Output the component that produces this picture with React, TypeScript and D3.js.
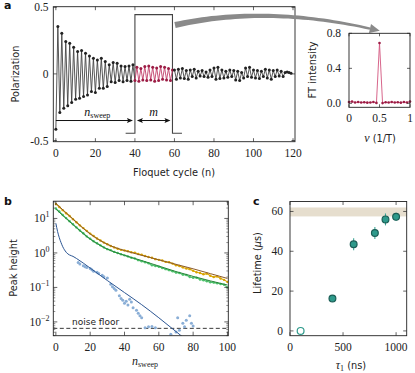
import React from "react";
import * as d3 from "d3";

// ---------- Panel a: polarization vs Floquet cycle ----------
const polPre = [
  -0.416, 0.356, -0.29, 0.306, -0.258, 0.243, -0.24, 0.23, -0.215, 0.2,
  -0.19, 0.168, -0.183, 0.175, -0.17, 0.155, -0.158, 0.135, -0.133, 0.118,
  -0.14, 0.105, -0.108, 0.118, -0.108, 0.093, -0.095, 0.068, -0.058, 0.085,
  -0.065, 0.08, -0.05, 0.06, -0.058, 0.055, -0.05, 0.06, -0.055, 0.068,
];
const polWindow = [
  -0.05, 0.05, -0.055, 0.04, -0.045, 0.055, -0.05, 0.06, -0.045, 0.05,
  -0.055, 0.045, -0.05, 0.055, -0.04, 0.05, -0.045, 0.04, -0.05, 0.03,
];
const polPost = [
  0.03, -0.04, 0.035, -0.03, 0.04, -0.035, 0.025, -0.04, 0.03, -0.02,
  0.035, -0.03, 0.02, -0.015, 0.025, -0.02, 0.015, -0.025, 0.03, -0.02,
  0.045, -0.04, 0.05, -0.035, 0.03, -0.03, 0.02, -0.025, 0.03, -0.02,
  0.025, -0.045, 0.02, -0.05, 0.01, -0.03, 0.045, -0.02, 0.05, -0.025,
  0.03, -0.03, 0.025, -0.035, 0.02, -0.02, 0.035, -0.03, 0.03, -0.04,
  0.025, -0.02, 0.03, -0.015, 0.02, -0.02, 0.01, 0.015, 0.01, 0.005,
];
const windowStart = 40;
const windowEnd = 59;
const ticksAX = [0, 20, 40, 60, 80, 100, 120];
const ticksAY = [-0.5, 0, 0.5];
const ticksAYLabels = ["-0.5", "0", "0.5"];

// ---------- Inset: FT ----------
const ftFreq = [0, 0.05, 0.1, 0.15, 0.2, 0.25, 0.3, 0.35, 0.4, 0.45, 0.5, 0.55, 0.6, 0.65, 0.7, 0.75, 0.8, 0.85, 0.9, 0.95, 1];
const ftAmp = [0.015, 0.02, 0.01, 0.015, 0.01, 0.012, 0.008, 0.01, 0.015, 0.005, 0.69, 0.003, 0.012, 0.01, 0.015, 0.01, 0.012, 0.008, 0.015, 0.01, 0.02];
const ticksIX = [0, 0.5, 1];
const ticksIXLabels = ["0", "0.5", "1"];
const ticksIY = [0, 0.4, 0.8];
const ticksIYLabels = ["0.0", "0.4", "0.8"];

// ---------- Panel b: peak height vs n_sweep (log10 values) ----------
const sweepN = d3.range(0, 101, 2);
const goldLog10 = [
  1.42, 1.33, 1.24, 1.15, 1.07, 0.98, 0.89, 0.8, 0.72, 0.64,
  0.56, 0.49, 0.42, 0.36, 0.3, 0.25, 0.2, 0.16, 0.12, 0.09,
  0.07, 0.05, 0.02, 0.01, -0.03, -0.05, -0.09, -0.12, -0.14, -0.18,
  -0.2, -0.22, -0.26, -0.27, -0.31, -0.36, -0.38, -0.42, -0.45, -0.47,
  -0.52, -0.56, -0.58, -0.62, -0.6, -0.66, -0.7, -0.68, -0.74, -0.78, -0.84,
];
const greenLog10 = [
  1.29, 1.2, 1.1, 1.01, 0.92, 0.83, 0.74, 0.65, 0.57, 0.48,
  0.41, 0.34, 0.28, 0.22, 0.16, 0.11, 0.08, 0.03, 0.0, -0.04,
  -0.07, -0.1, -0.14, -0.16, -0.21, -0.24, -0.27, -0.3, -0.36, -0.38,
  -0.4, -0.44, -0.47, -0.5, -0.53, -0.57, -0.58, -0.63, -0.64, -0.7,
  -0.72, -0.72, -0.77, -0.79, -0.82, -0.85, -0.86, -0.88, -0.9, -0.92, -1.0,
];
const fitN = [0, 10, 20, 30, 40, 50, 60, 70, 80, 90, 100];
const goldFitLog10 = [1.44, 0.98, 0.55, 0.25, 0.07, -0.07, -0.2, -0.33, -0.46, -0.6, -0.74];
const greenFitLog10 = [1.27, 0.82, 0.4, 0.11, -0.07, -0.22, -0.38, -0.54, -0.68, -0.81, -0.93];
const blueFitN = [0, 1, 2, 3, 4, 5, 6, 7, 8, 10, 12, 20, 30, 40, 50, 60, 70, 75];
const blueFitLog10 = [0.86, 0.62, 0.44, 0.3, 0.18, 0.09, 0.02, -0.03, -0.06, -0.1, -0.16, -0.44, -0.8, -1.15, -1.5, -1.88, -2.28, -2.48];
const blueN = [13, 14, 16, 17, 18, 20, 21, 22, 24, 25, 27, 28, 30, 32, 33, 34, 35, 37, 38, 39, 40, 41, 42, 43, 44, 45, 47, 48, 49, 50, 52, 54, 56, 58, 67, 70, 71, 72, 74, 75, 76, 78, 79, 80];
const blueLog10 = [-0.28, -0.32, -0.37, -0.4, -0.42, -0.45, -0.49, -0.53, -0.56, -0.6, -0.65, -0.69, -0.73, -0.91, -0.98, -1.03, -1.08, -1.24, -1.32, -1.37, -1.46, -1.4, -1.51, -1.34, -1.42, -1.59, -1.66, -1.75, -1.82, -1.88, -2.17, -2.14, -2.13, -2.17, -2.36, -2.29, -1.88, -2.24, -2.04, -2.14, -1.95, -1.82, -2.04, -2.12];
const noiseFloor = 0.0065;
const ticksBX = [0, 20, 40, 60, 80, 100];
const ticksBYExp = [-2, -1, 0, 1];

// ---------- Panel c: lifetime vs tau1 ----------
const tau1 = [100, 400, 600, 800, 900, 1000];
const lifetime = [0, 16.3, 43.5, 49.2, 56, 57.3];
const lifetimeErr = [0, 1, 3, 3, 3, 2];
const lifetimeBand = [57.5, 62];
const ticksCX = [0, 500, 1000];
const ticksCY = [0, 20, 40, 60];

const SERIF = "'Liberation Serif', 'DejaVu Serif', serif";
const SANS = "'DejaVu Sans', sans-serif";
const INK = "#222";

type Box = { l: number; r: number; t: number; b: number };

function Frame({ box, xs, ys, len = 3.5, ysMinor = [] as number[], minorLen = 2 }: { box: Box; xs: number[]; ys: number[]; len?: number; ysMinor?: number[]; minorLen?: number }) {
  const { l, r, t, b } = box;
  return (
    <g stroke={INK} strokeWidth={0.7} fill="none">
      {xs.map((x, i) => (
        <g key={"x" + i}>
          <line x1={x} x2={x} y1={b} y2={b - len} />
          <line x1={x} x2={x} y1={t} y2={t + len} />
        </g>
      ))}
      {ys.map((y, i) => (
        <g key={"y" + i}>
          <line x1={l} x2={l + len} y1={y} y2={y} />
          <line x1={r} x2={r - len} y1={y} y2={y} />
        </g>
      ))}
      {ysMinor.map((y, i) => (
        <g key={"m" + i} strokeWidth={0.5}>
          <line x1={l} x2={l + minorLen} y1={y} y2={y} />
          <line x1={r} x2={r - minorLen} y1={y} y2={y} />
        </g>
      ))}
      <rect x={l} y={t} width={r - l} height={b - t} strokeWidth={0.9} />
    </g>
  );
}

function arrowHead(tipX: number, tipY: number, dir: number, len = 6, half = 2.4) {
  const bx = tipX - dir * len;
  return `M${tipX},${tipY}L${bx},${tipY - half}L${bx + dir * 1.2},${tipY}L${bx},${tipY + half}Z`;
}

export default function App() {
  // ----- panel a scales -----
  const boxA: Box = { l: 53.3, r: 295, t: 6.7, b: 141.7 };
  const xA = d3.scaleLinear().domain([-1.3, 121]).range([boxA.l, boxA.r]);
  const yA = d3.scaleLinear().domain([-0.509, 0.5045]).range([boxA.b, boxA.t]);
  const pol = [...polPre, ...polWindow, ...polPost];
  const lineA2 = d3.line<[number, number]>().x((d) => xA(d[0])).y((d) => yA(d[1]));
  const allPts: [number, number][] = pol.map((v, i) => [i, v]);
  const prePts = allPts.slice(0, windowStart + 1);
  const winPts = allPts.slice(windowStart, windowEnd + 1);
  const postPts = allPts.slice(windowEnd);

  // pulse outline
  const pulse: [number, number][] = [
    [35.3, -0.445], [windowStart, -0.445], [windowStart, 0.445], [windowEnd, 0.445], [windowEnd, -0.445], [63.8, -0.445],
  ];
  const arrowY = yA(-0.35);

  // big grey arrow (tapered quadratic)
  const P0 = [175, 25], P1 = [265, 5], P2 = [370, 28.6];
  const bez = (t: number) => {
    const u = 1 - t;
    return [u * u * P0[0] + 2 * u * t * P1[0] + t * t * P2[0], u * u * P0[1] + 2 * u * t * P1[1] + t * t * P2[1]];
  };
  const der = (t: number) => [
    2 * (1 - t) * (P1[0] - P0[0]) + 2 * t * (P2[0] - P1[0]),
    2 * (1 - t) * (P1[1] - P0[1]) + 2 * t * (P2[1] - P1[1]),
  ];
  const upper: [number, number][] = [];
  const lower: [number, number][] = [];
  for (let i = 0; i <= 40; i++) {
    const t = i / 40;
    const p = bez(t);
    const d = der(t);
    const m = Math.hypot(d[0], d[1]);
    const nx = -d[1] / m, ny = d[0] / m;
    const w = (6 * (1 - t) + 2.4 * t) / 2;
    upper.push([p[0] + nx * w, p[1] + ny * w]);
    lower.push([p[0] - nx * w, p[1] - ny * w]);
  }
  const shaft = d3.line()([...upper, ...lower.reverse()]) + "Z";
  const dEnd = der(1);
  const mEnd = Math.hypot(dEnd[0], dEnd[1]);
  const ux = dEnd[0] / mEnd, uy = dEnd[1] / mEnd;
  const head = `M${P2[0] + ux * 10},${P2[1] + uy * 10}L${P2[0] - uy * 4.6},${P2[1] + ux * 4.6}L${P2[0] + uy * 4.6},${P2[1] - ux * 4.6}Z`;

  // ----- inset -----
  const boxI: Box = { l: 349, r: 410, t: 33.3, b: 107.3 };
  const xI = d3.scaleLinear().domain([0, 1]).range([boxI.l, boxI.r]);
  const yI = d3.scaleLinear().domain([-0.045, 0.8]).range([boxI.b, boxI.t]);
  const lineI = d3.line<number>().x((_, i) => xI(ftFreq[i])).y((d) => yI(d));

  // ----- panel b -----
  const boxB: Box = { l: 53.3, r: 228.3, t: 201.2, b: 335.7 };
  const xB = d3.scaleLinear().domain([-1.5, 100.5]).range([boxB.l, boxB.r]);
  const yB = d3.scaleLog().domain([Math.pow(10, -2.4), Math.pow(10, 1.5)]).range([boxB.b, boxB.t]);
  const lineB = (ns: number[]) =>
    d3.line<number>().x((_, i) => xB(ns[i])).y((d) => yB(Math.pow(10, d)));
  const fitLine = (ns: number[]) =>
    d3.line<number>().x((_, i) => xB(ns[i])).y((d) => yB(Math.pow(10, d))).curve(d3.curveMonotoneX);
  const minorB: number[] = [];
  for (let e = -3; e <= 1; e++) {
    for (let k = 2; k <= 9; k++) {
      const v = k * Math.pow(10, e);
      if (v > yB.domain()[0] && v < yB.domain()[1]) minorB.push(yB(v));
    }
  }

  // ----- panel c -----
  const boxC: Box = { l: 290, r: 406.7, t: 201.5, b: 335.7 };
  const xC = d3.scaleLinear().domain([0, 1100]).range([boxC.l, boxC.r]);
  const yC = d3.scaleLinear().domain([-2.4, 65]).range([boxC.b, boxC.t]);

  const tickFont = { fontFamily: SERIF, fontSize: 11.5, fill: "#222" } as const;
  const labelFont = { fontFamily: SANS, fontSize: 9.8, fill: "#222" } as const;

  return (
    <svg width={415} height={373} style={{ position: "absolute", left: 0, top: 0, background: "#fff" }}>
      <defs>
        <clipPath id="clipB">
          <rect x={boxB.l} y={boxB.t} width={boxB.r - boxB.l} height={boxB.b - boxB.t} />
        </clipPath>
      </defs>

      {/* ================= panel a ================= */}
      <text x={4} y={9} fontFamily={SANS} fontWeight="bold" fontSize={11} fill="#111">a</text>
      <path d={lineA2(pulse) || ""} fill="none" stroke="#444" strokeWidth={1.1} />
      <path d={lineA2(prePts) || ""} fill="none" stroke="#444" strokeWidth={0.9} />
      <path d={lineA2(postPts) || ""} fill="none" stroke="#444" strokeWidth={0.9} />
      <path d={lineA2(winPts) || ""} fill="none" stroke="#c2416b" strokeWidth={0.9} />
      {pol.map((v, i) => (
        <circle key={i} cx={xA(i)} cy={yA(v)} r={1.5}
          fill={i >= windowStart && i <= windowEnd ? "#9c1d45" : "#222"} />
      ))}
      {/* n_sweep and m arrows */}
      <line x1={xA(0)} x2={xA(39) - 4} y1={arrowY} y2={arrowY} stroke="#111" strokeWidth={1} />
      <path d={arrowHead(xA(39), arrowY, 1)} fill="#111" />
      <line x1={xA(41) + 4} x2={xA(58) - 4} y1={arrowY} y2={arrowY} stroke="#111" strokeWidth={1} />
      <path d={arrowHead(xA(41), arrowY, -1)} fill="#111" />
      <path d={arrowHead(xA(58), arrowY, 1)} fill="#111" />
      <text x={xA(21)} y={arrowY - 4.5} textAnchor="middle" fontFamily={SERIF} fontSize={12} fill="#111">
        <tspan fontStyle="italic">n</tspan>
        <tspan fontSize={8} dy={2}>sweep</tspan>
      </text>
      <text x={xA(49.5)} y={arrowY - 4.5} textAnchor="middle" fontFamily={SERIF} fontStyle="italic" fontSize={12} fill="#111">m</text>

      <Frame box={boxA} xs={ticksAX.map((v) => xA(v))} ys={ticksAY.map((v) => yA(v))} />
      {ticksAX.map((v) => (
        <text key={v} x={xA(v)} y={156.5} textAnchor="middle" {...tickFont}>{v}</text>
      ))}
      {ticksAY.map((v, i) => (
        <text key={v} x={48.5} y={yA(v) + 4} textAnchor="end" {...tickFont}>{ticksAYLabels[i]}</text>
      ))}
      <text x={174} y={175.5} textAnchor="middle" {...labelFont}>Floquet cycle (n)</text>
      <text transform="translate(18.5,74) rotate(-90)" textAnchor="middle" {...labelFont}>Polarization</text>

      {/* grey arrow */}
      <path d={shaft} fill="#8a8a8a" />
      <path d={head} fill="#8a8a8a" />

      {/* ================= inset ================= */}
      <path d={lineI(ftAmp) || ""} fill="none" stroke="#d2557e" strokeWidth={0.9} />
      {ftAmp.map((v, i) => (
        <circle key={i} cx={xI(ftFreq[i])} cy={yI(v)} r={1.3} fill="#9c1d45" />
      ))}
      <Frame box={boxI} xs={ticksIX.map((v) => xI(v))} ys={ticksIY.map((v) => yI(v))} len={3} />
      {ticksIX.map((v, i) => (
        <text key={v} x={xI(v)} y={122} textAnchor="middle" {...tickFont}>{ticksIXLabels[i]}</text>
      ))}
      {ticksIY.map((v, i) => (
        <text key={v} x={341} y={yI(v) + 4} textAnchor="end" {...tickFont}>{ticksIYLabels[i]}</text>
      ))}
      <text x={380} y={142} textAnchor="middle" {...labelFont}>
        <tspan fontFamily={SERIF} fontStyle="italic" fontSize={12}>ν</tspan>
        <tspan> (1/T)</tspan>
      </text>
      <text transform="translate(315.5,70) rotate(-90)" textAnchor="middle" {...labelFont}>FT intensity</text>

      {/* ================= panel b ================= */}
      <text x={4} y={205} fontFamily={SANS} fontWeight="bold" fontSize={11} fill="#111">b</text>
      <g clipPath="url(#clipB)">
        <line x1={boxB.l} x2={boxB.r} y1={yB(noiseFloor)} y2={yB(noiseFloor)} stroke="#222" strokeWidth={0.9} strokeDasharray="4,2.5" />
        {blueN.map((n, i) => (
          <circle key={i} cx={xB(n)} cy={yB(Math.pow(10, blueLog10[i]))} r={1.5} fill="#8aaed6" />
        ))}
        <path d={lineB(sweepN)(goldLog10) || ""} fill="none" stroke="#d9a400" strokeWidth={1.1} />
        {goldLog10.map((v, i) => (
          <circle key={i} cx={xB(sweepN[i])} cy={yB(Math.pow(10, v))} r={1.2} fill="#d9a400" />
        ))}
        <path d={lineB(sweepN)(greenLog10) || ""} fill="none" stroke="#4cc06a" strokeWidth={1.1} />
        {greenLog10.map((v, i) => (
          <circle key={i} cx={xB(sweepN[i])} cy={yB(Math.pow(10, v))} r={1.2} fill="#4cc06a" />
        ))}
        <path d={fitLine(fitN)(goldFitLog10) || ""} fill="none" stroke="#8b5a2b" strokeWidth={1} />
        <path d={fitLine(fitN)(greenFitLog10) || ""} fill="none" stroke="#27853a" strokeWidth={1} />
        <path d={fitLine(blueFitN)(blueFitLog10) || ""} fill="none" stroke="#2b5592" strokeWidth={1} />
      </g>
      <text x={72} y={324.5} fontFamily={SANS} fontSize={9} fill="#222">noise floor</text>
      <Frame box={boxB} xs={ticksBX.map((v) => xB(v))} ys={ticksBYExp.map((e) => yB(Math.pow(10, e)))} ysMinor={minorB} len={4} />
      {ticksBX.map((v) => (
        <text key={v} x={xB(v)} y={350.5} textAnchor="middle" {...tickFont}>{v}</text>
      ))}
      {ticksBYExp.map((e) => (
        <text key={e} x={49.5} y={yB(Math.pow(10, e)) + 4} textAnchor="end" {...tickFont}>
          10<tspan dy={-5} fontSize={8}>{e < 0 ? "−" + Math.abs(e) : String(e)}</tspan>
        </text>
      ))}
      <text x={145} y={365} textAnchor="middle" fontFamily={SERIF} fontSize={12} fill="#222">
        <tspan fontStyle="italic">n</tspan>
        <tspan fontSize={8} dy={2}>sweep</tspan>
      </text>
      <text transform="translate(17,268) rotate(-90)" textAnchor="middle" {...labelFont}>Peak height</text>

      {/* ================= panel c ================= */}
      <text x={253} y={205} fontFamily={SANS} fontWeight="bold" fontSize={11} fill="#111">c</text>
      <rect x={boxC.l} y={yC(lifetimeBand[1])} width={boxC.r - boxC.l} height={yC(lifetimeBand[0]) - yC(lifetimeBand[1])} fill="#e6dece" />
      {tau1.map((t, i) =>
        lifetimeErr[i] > 0 ? (
          <line key={"e" + i} x1={xC(t)} x2={xC(t)} y1={yC(lifetime[i] - lifetimeErr[i])} y2={yC(lifetime[i] + lifetimeErr[i])} stroke="#3fa596" strokeWidth={1.1} />
        ) : null
      )}
      {tau1.map((t, i) => (
        <circle key={i} cx={xC(t)} cy={yC(lifetime[i])} r={3.4}
          fill={i === 0 ? "#fff" : "#2e9a8b"} stroke={i === 0 ? "#2e9a8b" : "#1b5e56"} strokeWidth={1.2} />
      ))}
      <Frame box={boxC} xs={ticksCX.map((v) => xC(v))} ys={ticksCY.map((v) => yC(v))} />
      {ticksCX.map((v) => (
        <text key={v} x={xC(v)} y={351} textAnchor="middle" {...tickFont}>{v}</text>
      ))}
      {ticksCY.map((v) => (
        <text key={v} x={283} y={yC(v) + 4} textAnchor="end" {...tickFont}>{v}</text>
      ))}
      <text x={351} y={369} textAnchor="middle" {...labelFont}>
        <tspan fontFamily={SERIF} fontStyle="italic" fontSize={12}>τ</tspan>
        <tspan fontFamily={SERIF} fontSize={8} dy={2}>1</tspan>
        <tspan dy={-2}> (ns)</tspan>
      </text>
      <text transform="translate(260.5,263) rotate(-90)" textAnchor="middle" {...labelFont}>
        Lifetime (<tspan fontStyle="italic">μ</tspan>s)
      </text>
    </svg>
  );
}
